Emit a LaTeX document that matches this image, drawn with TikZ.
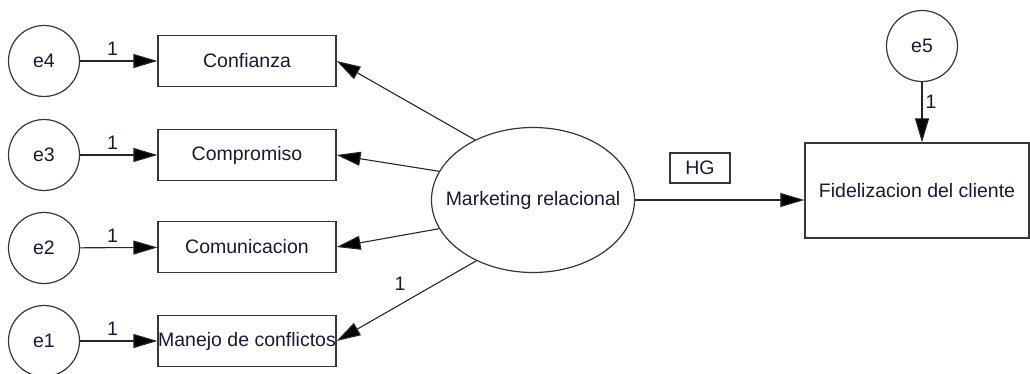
\documentclass[tikz,border=0pt]{standalone}
\usepackage{fontspec}
\setmainfont{Liberation Sans}
\usetikzlibrary{arrows.meta,shapes.geometric}
\definecolor{txt}{RGB}{25,25,55}
\definecolor{ln}{RGB}{55,55,55}
\begin{document}
\begin{tikzpicture}[x=1pt,y=-1pt,
  every node/.style={text=txt,font=\fontsize{19.5}{22}\selectfont},
  err/.style={draw=ln,line width=1.2pt,circle,minimum size=71pt,inner sep=0pt},
  obs/.style={draw=ln,line width=1.2pt,rectangle,minimum width=178pt,minimum height=51pt,inner sep=0pt},
  lat/.style={draw=ln,line width=1.2pt,ellipse,minimum width=203pt,minimum height=145pt,inner sep=0pt},
  outc/.style={draw=ln,line width=1.2pt,rectangle,minimum width=224pt,minimum height=95pt,inner sep=0pt},
  lblbox/.style={draw=ln,line width=1.2pt,rectangle,minimum width=60pt,minimum height=30pt,inner sep=0pt},
  arr/.style={draw=black!85,line width=1.1pt,-{Triangle[length=24pt,width=14pt,fill=black]}},
  lbl/.style={inner sep=1pt}]
\useasboundingbox (0,0) rectangle (1030,374);
% error terms
\node[err] (e4) at (44,61) {e4};
\node[err] (e3) at (44,155) {e3};
\node[err] (e2) at (44,248) {e2};
\node[err] (e1) at (44,341) {e1};
\node[err] (e5) at (922,46) {e5};
% observed
\node[obs] (c1) at (247,61) {Confianza};
\node[obs] (c2) at (247,155) {Compromiso};
\node[obs] (c3) at (247,247) {Comunicacion};
\node[obs] (c4) at (247,341) {Manejo de conflictos};
% latent
\node[lat,label={[inner sep=0pt]center:Marketing relacional}] (mr) at (533,200) {};
% outcome
\node[outc] (fc) at (917,190.5) {Fidelizacion del cliente};
\node[lblbox] (hg) at (700,168) {HG};
% arrows from errors
\draw[arr] (e4) -- node[lbl,above=4pt,pos=0.42] {1} (c1);
\draw[arr] (e3) -- node[lbl,above=4pt,pos=0.42] {1} (c2);
\draw[arr] (e2) -- node[lbl,above=4pt,pos=0.42] {1} (c3);
\draw[arr] (e1) -- node[lbl,above=4pt,pos=0.42] {1} (c4);
\draw[arr] (e5.south) -- node[lbl,right=2pt,pos=0.33] {1} (e5.south |- fc.north);
% loadings
\draw[arr] (mr.134) -- (c1.east);
\draw[arr] (mr.163) -- (c2.east);
\draw[arr] (mr.197) -- (c3.east);
\draw[arr] (mr.227) -- (c4.east);
\node[lbl] (one) at (400,284) {1};
% structural path
\draw[arr] (mr.east) -- (mr.east -| fc.west);
\end{tikzpicture}
\end{document}
